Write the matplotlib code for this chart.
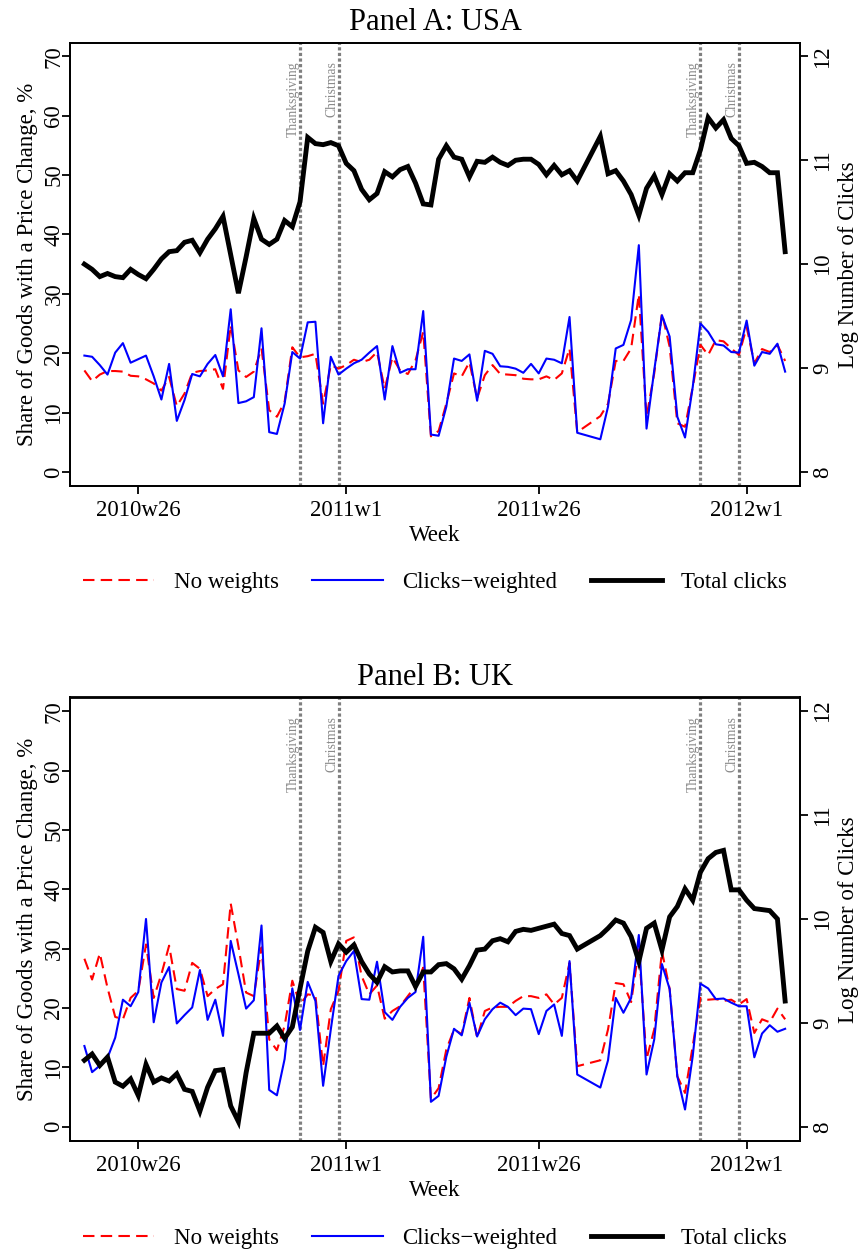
import numpy as np
import matplotlib
matplotlib.use("Agg")
import matplotlib.pyplot as plt

plt.rcParams['font.family'] = ['Liberation Serif', 'DejaVu Serif']


def week_index(s):
    # Stata-style weekly date "2010w26" -> 52 weeks per year, 2010w1 = 0
    y, w = s.split("w")
    return (int(y) - 2010) * 52 + int(w) - 1


# weeks observed: 2010w19 .. 2012w6, with 2011w32 and 2011w33 missing
weeks = [t for t in range(18, 110) if t not in (83, 84)]

tick_labels = ["2010w26", "2011w1", "2011w26", "2012w1"]
holidays = [("Thanksgiving", "2010w47"), ("Christmas", "2010w52"),
            ("Thanksgiving", "2011w47"), ("Christmas", "2011w52")]

# Panel A: USA
usa_noweights = [
    17.1, 15.3, 16.4, 17.0, 17.0, 16.9, 16.2, 16.1, 15.6, 14.9, 13.7, 16.0, 11.1, 13.2, 16.7, 17.0,
    17.1, 17.3, 14.0, 24.7, 17.1, 16.0, 16.9, 20.8, 10.4, 9.3, 11.8, 21.0, 19.3, 19.5, 19.9, 11.5,
    18.0, 17.4, 18.0, 18.9, 18.5, 18.9, 20.2, 14.0, 19.3, 17.1, 16.5, 18.8, 23.6, 6.0, 6.9,
    11.5, 16.6, 16.1, 18.5, 12.4, 16.3, 18.0, 16.5, 16.4, 16.3, 15.7, 15.6, 15.6, 16.1, 15.5, 16.6,
    20.8, 6.7, 9.4, 11.5, 18.7, 18.7, 20.8, 29.9, 9.3, 16.6, 26.7, 21.1, 8.2, 7.6, 14.3, 21.4,
    19.7, 22.2, 22.0, 20.8, 19.7, 24.4, 18.3, 20.7, 20.2, 21.4, 18.7]
usa_clicks_w = [
    19.6, 19.4, 18.0, 16.4, 20.1, 21.7, 18.4, 19.0, 19.6, 16.1, 12.2, 18.2, 8.6, 12.1, 16.5, 16.1,
    18.2, 19.7, 16.1, 27.4, 11.6, 11.9, 12.6, 24.2, 6.7, 6.4, 11.5, 20.2, 19.1, 25.2, 25.3, 8.2,
    19.4, 16.4, 17.4, 18.3, 18.9, 20.1, 21.2, 12.2, 21.2, 16.7, 17.3, 17.3, 27.1, 6.3, 6.1,
    11.0, 19.1, 18.7, 19.8, 12.0, 20.4, 19.9, 17.8, 17.7, 17.4, 16.7, 18.2, 16.6, 19.1, 18.9, 18.3,
    26.1, 6.6, 5.5, 11.0, 20.8, 21.4, 25.6, 38.2, 7.3, 17.1, 26.4, 22.8, 9.3, 5.8, 14.3, 25.0,
    23.6, 21.5, 21.3, 20.2, 20.1, 25.5, 17.9, 20.2, 19.9, 21.6, 16.9]
usa_logclicks = [
    10.00, 9.95, 9.88, 9.91, 9.88, 9.87, 9.95, 9.90, 9.86, 9.95, 10.05, 10.12, 10.13, 10.21, 10.23, 10.11,
    10.24, 10.34, 10.46, 10.09, 9.72, 10.07, 10.44, 10.24, 10.19, 10.24, 10.42, 10.36, 10.60, 11.22, 11.16, 11.15,
    11.17, 11.14, 10.97, 10.90, 10.72, 10.62, 10.68, 10.89, 10.84, 10.91, 10.94, 10.78, 10.58, 10.57, 11.01,
    11.14, 11.03, 11.01, 10.84, 10.99, 10.98, 11.03, 10.98, 10.95, 11.00, 11.01, 11.01, 10.96, 10.86, 10.95, 10.86,
    10.90, 10.80, 11.23, 10.87, 10.90, 10.80, 10.67, 10.47, 10.73, 10.85, 10.67, 10.87, 10.80, 10.88, 10.88, 11.10,
    11.41, 11.31, 11.39, 11.21, 11.14, 10.97, 10.98, 10.94, 10.88, 10.88, 10.12]

# Panel B: UK
uk_noweights = [
    28.3, 24.8, 29.2, 23.4, 18.5, 18.1, 21.7, 22.9, 30.7, 21.7, 25.7, 30.5, 23.2, 22.9, 27.6, 26.6,
    22.0, 23.2, 24.0, 37.6, 30.4, 22.6, 22.0, 30.2, 14.7, 12.9, 17.0, 24.6, 20.6, 22.3, 22.1, 10.2,
    19.8, 22.9, 31.3, 31.9, 25.4, 22.3, 23.8, 18.2, 19.5, 20.3, 22.0, 23.7, 26.8, 4.7, 6.5,
    13.0, 16.4, 15.6, 21.7, 15.0, 19.5, 20.1, 20.2, 20.2, 21.2, 22.0, 22.0, 21.7, 22.3, 20.6, 21.7,
    27.6, 10.2, 11.2, 16.4, 24.2, 24.0, 21.0, 29.9, 11.4, 16.4, 29.6, 23.2, 8.5, 5.7, 13.6, 21.7,
    21.4, 21.5, 21.2, 21.4, 20.6, 21.5, 15.8, 18.1, 17.6, 19.9, 18.1]
uk_clicks_w = [
    13.6, 9.2, 10.3, 11.6, 15.0, 21.4, 20.3, 22.7, 35.0, 17.6, 24.3, 26.9, 17.4, 18.8, 20.1, 26.4,
    18.0, 21.4, 15.3, 31.3, 25.7, 19.9, 21.3, 33.9, 6.2, 5.3, 11.4, 23.3, 16.3, 24.4, 21.2, 6.9,
    16.4, 25.4, 27.9, 29.6, 21.5, 21.4, 27.8, 19.3, 18.0, 20.2, 21.7, 22.7, 32.0, 4.2, 5.2,
    11.8, 16.5, 15.4, 20.9, 15.2, 18.1, 19.8, 20.9, 20.2, 18.8, 19.9, 19.8, 15.6, 19.5, 20.6, 15.3,
    27.9, 8.8, 6.6, 11.2, 21.7, 19.2, 21.7, 32.3, 8.8, 14.7, 27.4, 23.2, 8.5, 2.9, 11.9, 24.1,
    23.3, 21.5, 21.6, 20.9, 20.3, 20.3, 11.7, 15.7, 17.1, 16.0, 16.5]
uk_logclicks = [
    8.64, 8.70, 8.59, 8.67, 8.43, 8.39, 8.46, 8.30, 8.60, 8.43, 8.47, 8.44, 8.51, 8.36, 8.34, 8.15,
    8.38, 8.54, 8.55, 8.20, 8.05, 8.52, 8.90, 8.90, 8.90, 8.97, 8.85, 8.96, 9.33, 9.69, 9.92, 9.87,
    9.59, 9.76, 9.68, 9.75, 9.59, 9.47, 9.39, 9.54, 9.49, 9.50, 9.50, 9.35, 9.49, 9.49, 9.56,
    9.57, 9.52, 9.42, 9.55, 9.70, 9.71, 9.79, 9.81, 9.78, 9.88, 9.90, 9.89, 9.91, 9.93, 9.95, 9.86,
    9.84, 9.71, 9.84, 9.91, 9.99, 9.96, 9.83, 9.59, 9.91, 9.96, 9.70, 10.02, 10.12, 10.29, 10.18, 10.45,
    10.58, 10.64, 10.66, 10.28, 10.28, 10.18, 10.10, 10.09, 10.08, 10.00, 9.21]

FS = 16.5
W, H = 860, 1253
fig = plt.figure(figsize=(W / 100, H / 100), dpi=100)


def panel(top_px, title, red, blue, black, legend_y_px):
    ax = fig.add_axes([70 / W, 1 - (top_px + 443.5) / H, 730 / W, 443.5 / H])
    ax2 = ax.twinx()
    x = np.array(weeks)

    for name, wk in holidays:
        t = week_index(wk)
        ax.axvline(t, color="#808080", lw=2.3, ls=(0, (1.0, 0.75)), zorder=1)
        ax.text(t - 0.05, 0.958, name, transform=ax.get_xaxis_transform(), rotation=90,
                ha="right", va="top", color="#8a8a8a", fontsize=9.8)

    l1, = ax.plot(x, red, color="red", lw=1.5, dashes=(5.5, 3), zorder=3)
    l2, = ax.plot(x, blue, color="blue", lw=1.5, zorder=4)
    l3, = ax2.plot(x, black, color="black", lw=3.5, solid_joinstyle="miter")

    ax.set_xlim(16.13, 110.93)
    ax.set_ylim(-2.4, 72.3)
    ax2.set_ylim(8 + (-2.4) / 17.5, 8 + 72.3 / 17.5)
    ax.set_yticks(range(0, 71, 10))
    ax2.set_yticks([8, 9, 10, 11, 12])
    ax.set_xticks([week_index(s) for s in tick_labels])
    ax.set_xticklabels(tick_labels)

    for a in (ax, ax2):
        for sp in a.spines.values():
            sp.set_linewidth(1.3)
        a.tick_params(length=6, width=1.3, labelsize=FS, pad=3)
        a.tick_params(axis="y", labelrotation=90)
    for lab in ax.get_yticklabels() + ax2.get_yticklabels():
        lab.set_va("center")
    ax.tick_params(axis="y", pad=-2)
    ax.tick_params(axis="x", pad=4)

    ax.set_xlabel("Week", fontsize=FS, labelpad=3)
    ax.set_ylabel("Share of Goods with a Price Change, %", fontsize=FS, labelpad=4)
    ax2.set_ylabel("Log Number of Clicks", fontsize=FS, labelpad=3)
    ax.set_title(title, fontsize=22, pad=9)

    fig.legend([l1, l2, l3], ["No weights", "Clicks\u2212weighted", "Total clicks"],
               loc="center", bbox_to_anchor=(435 / W, 1 - legend_y_px / H), ncol=3,
               frameon=False, fontsize=FS, handlelength=3.1, handletextpad=0.85,
               columnspacing=1.45)


panel(42.7, "Panel A: USA", usa_noweights, usa_clicks_w, usa_logclicks, 582)
panel(697.5, "Panel B: UK", uk_noweights, uk_clicks_w, uk_logclicks, 1238)

fig.savefig("out.png", dpi=100)
